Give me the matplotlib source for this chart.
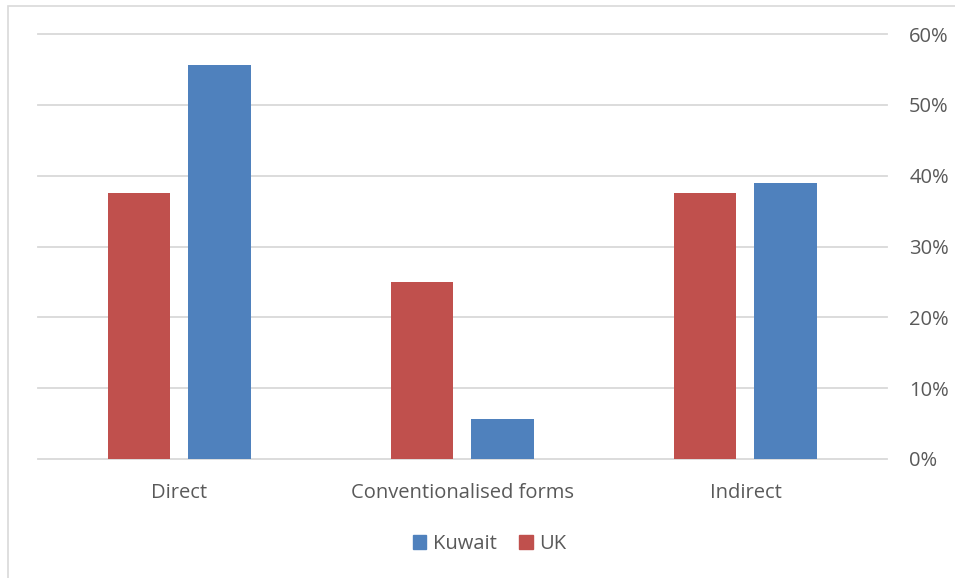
import matplotlib
matplotlib.use("Agg")
import matplotlib.pyplot as plt
import numpy as np
from matplotlib.patches import Rectangle, Patch

categories = ["Direct", "Conventionalised forms", "Indirect"]
uk = [0.375, 0.25, 0.375]
kuwait = [0.556, 0.056, 0.389]
yticks = [0, 0.1, 0.2, 0.3, 0.4, 0.5, 0.6]
ytick_labels = ["0%", "10%", "20%", "30%", "40%", "50%", "60%"]

RED = "#C0504D"
BLUE = "#4F81BD"
TXT = "#595959"
GRID = "#D9D9D9"

plt.rcParams["font.family"] = ["Open Sans", "DejaVu Sans"]

W, H = 955, 578
fig = plt.figure(figsize=(W / 100, H / 100), dpi=100)
fig.patches.append(Rectangle((8 / W, -0.1), 1.2, 1 - 6 / H + 0.1, transform=fig.transFigure,
                             fill=False, edgecolor="#D9D9D9", linewidth=1.2))

ax = fig.add_axes([38 / W, 1 - 459 / H, (887 - 38) / W, (459 - 34) / H])
x = np.arange(len(categories))
bw = 0.222
ax.bar(x - 0.143, uk, width=bw, color=RED, zorder=3)
ax.bar(x + 0.141, kuwait, width=bw, color=BLUE, zorder=3)

ax.set_xlim(-0.5, 2.5)
ax.set_ylim(0, 0.6)
ax.yaxis.tick_right()
ax.set_yticks(yticks)
ax.set_yticklabels(ytick_labels)
ax.set_xticks(x)
ax.set_xticklabels(categories)
ax.tick_params(axis="y", length=0, pad=16, labelsize=14.5, labelcolor=TXT)
ax.tick_params(axis="x", length=0, pad=17, labelsize=14.5, labelcolor=TXT)
ax.grid(axis="y", color=GRID, linewidth=1.3, zorder=0)
for gl in ax.get_ygridlines():
    gl.set_clip_on(False)
for s in ax.spines.values():
    s.set_visible(False)

handles = [Patch(color=BLUE, label="Kuwait"), Patch(color=RED, label="UK")]
fig.legend(handles=handles, loc="center", bbox_to_anchor=(490 / W, 1 - 544 / H), ncol=2,
           frameon=False, fontsize=14.5, labelcolor=TXT, handlelength=0.65, handleheight=0.65,
           handletextpad=0.35, columnspacing=1.1)

fig.savefig("out.png", dpi=100)
